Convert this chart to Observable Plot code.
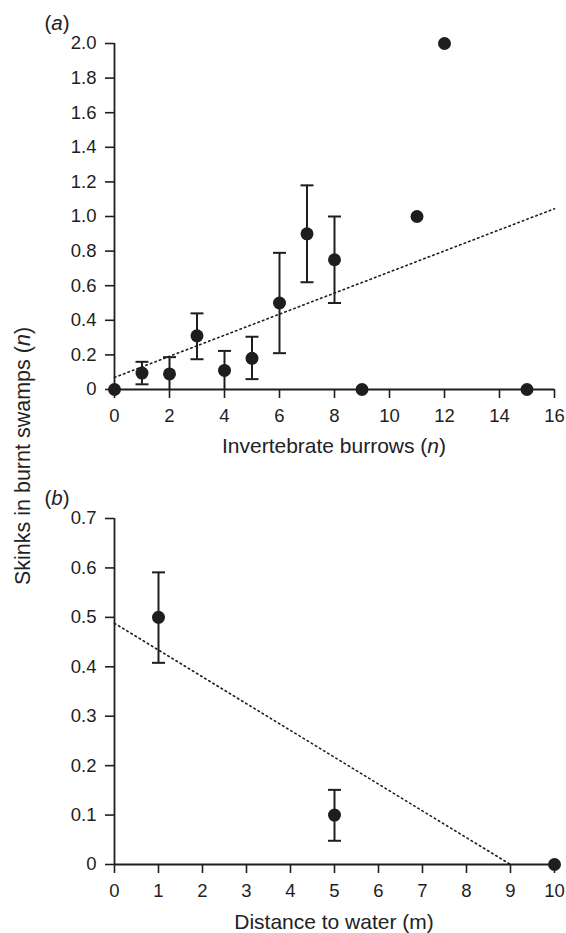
<!DOCTYPE html>
<html>
<head>
<meta charset="utf-8">
<script src="https://cdn.jsdelivr.net/npm/d3@7"></script>
<script src="https://cdn.jsdelivr.net/npm/@observablehq/plot@0.6"></script>
<style>
  html, body { margin: 0; padding: 0; background: #fff; }
  #wrap { position: relative; width: 566px; height: 933px; font-family: "Liberation Sans", Arial, Helvetica, sans-serif; color: #222; }
  #wrap svg { display: block; overflow: visible; }
  .lbl { position: absolute; line-height: 1; white-space: nowrap; transform: translate(-50%, -50%); }
  .rot { transform: translate(-50%, -50%) rotate(-90deg); }
</style>
</head>
<body>
<div id="wrap"></div>
<script>
// Panel (a): skinks vs invertebrate burrows
const burrows = [0, 1, 2, 3, 4, 5, 6, 7, 8, 9, 11, 12, 15];
const skinksA = [0, 0.095, 0.09, 0.31, 0.11, 0.18, 0.50, 0.90, 0.75, 0, 1.0, 2.0, 0];
const errLoA  = [null, 0.03, 0, 0.175, 0, 0.06, 0.21, 0.62, 0.50, null, null, null, null];
const errHiA  = [null, 0.16, 0.187, 0.44, 0.223, 0.305, 0.79, 1.18, 1.0, null, null, null, null];
const trendAx = [0, 16];
const trendAy = [0.07, 1.045];
const xTicksA = [0, 2, 4, 6, 8, 10, 12, 14, 16];
const yTicksA = [0, 0.2, 0.4, 0.6, 0.8, 1.0, 1.2, 1.4, 1.6, 1.8, 2.0];

// Panel (b): skinks vs distance to water
const distance = [1, 5, 10];
const skinksB  = [0.50, 0.10, 0];
const errLoB   = [0.408, 0.048, null];
const errHiB   = [0.591, 0.151, null];
const trendBx  = [0, 9];
const trendBy  = [0.488, 0];
const xTicksB  = [0, 1, 2, 3, 4, 5, 6, 7, 8, 9, 10];
const yTicksB  = [0, 0.1, 0.2, 0.3, 0.4, 0.5, 0.6, 0.7];

const ink = "#1e1e1e";
const font = "Liberation Sans, Arial, Helvetica, sans-serif";
const tickFont = 18.5;

const capSymbol = {
  draw(ctx, size) {
    const r = Math.sqrt(size / Math.PI);
    ctx.moveTo(-r, 0);
    ctx.lineTo(r, 0);
  }
};

const fmt = d => d === 0 ? "0" : d.toFixed(1);

function panel({xs, ys, lo, hi, tx, ty, xTicks, yTicks, xDomain, yDomain, height, marginTop, marginBottom}) {
  const pts = xs.map((x, i) => ({x, y: ys[i], lo: lo[i], hi: hi[i]}));
  const bars = pts.filter(d => d.lo != null);
  const trend = tx.map((x, i) => ({x, y: ty[i]}));
  return Plot.plot({
    width: 566,
    height,
    marginLeft: 114,
    marginRight: 12,
    marginTop,
    marginBottom,
    style: {fontFamily: font, fontSize: tickFont + "px", color: ink, background: "white", overflow: "visible"},
    x: {domain: xDomain, ticks: xTicks, tickFormat: d => String(d)},
    y: {domain: yDomain, ticks: yTicks, tickFormat: fmt},
    marks: [
      Plot.axisX({ticks: xTicks, tickFormat: d => String(d), tickSize: 9, tickPadding: 10, label: null, fontSize: tickFont, stroke: ink, strokeWidth: 1.6, fill: ink}),
      Plot.axisY({ticks: yTicks, tickFormat: fmt, tickSize: 9, tickPadding: 9, label: null, fontSize: tickFont, stroke: ink, strokeWidth: 1.6, fill: ink}),
      Plot.ruleX([xDomain[0]], {y1: yDomain[0], y2: yDomain[1], stroke: ink, strokeWidth: 1.8}),
      Plot.ruleY([yDomain[0]], {x1: xDomain[0], x2: xDomain[1], stroke: ink, strokeWidth: 1.8}),
      Plot.line(trend, {x: "x", y: "y", stroke: ink, strokeWidth: 1.6, strokeDasharray: "1.5,3.3"}),
      Plot.ruleX(bars, {x: "x", y1: "lo", y2: "hi", stroke: ink, strokeWidth: 2}),
      Plot.dot(bars, {x: "x", y: "hi", symbol: capSymbol, r: 6.5, fill: "none", stroke: ink, strokeWidth: 2}),
      Plot.dot(bars.filter(d => d.lo > 0), {x: "x", y: "lo", symbol: capSymbol, r: 6.5, fill: "none", stroke: ink, strokeWidth: 2}),
      Plot.dot(pts, {x: "x", y: "y", r: 6.5, fill: ink, stroke: "none"})
    ]
  });
}

const wrap = document.getElementById("wrap");

wrap.appendChild(panel({
  xs: burrows, ys: skinksA, lo: errLoA, hi: errHiA, tx: trendAx, ty: trendAy,
  xTicks: xTicksA, yTicks: yTicksA, xDomain: [0, 16], yDomain: [0, 2],
  height: 460, marginTop: 43, marginBottom: 71
}));

wrap.appendChild(panel({
  xs: distance, ys: skinksB, lo: errLoB, hi: errHiB, tx: trendBx, ty: trendBy,
  xTicks: xTicksB, yTicks: yTicksB, xDomain: [0, 10], yDomain: [0, 0.7],
  height: 473, marginTop: 58, marginBottom: 69
}));

function label(html, left, top, size, cls) {
  const d = document.createElement("div");
  d.className = "lbl" + (cls ? " " + cls : "");
  d.style.left = left + "px";
  d.style.top = top + "px";
  d.style.fontSize = size + "px";
  d.innerHTML = html;
  wrap.appendChild(d);
}

label("(<i>a</i>)", 57, 23, 20.5);
label("(<i>b</i>)", 57, 498, 20.5);
label("Invertebrate burrows (<i>n</i>)", 334, 445, 21);
label("Distance to water (m)", 334, 920.5, 21);
label("Skinks in burnt swamps (<i>n</i>)", 24, 456, 21.5, "rot");
</script>
</body>
</html>
